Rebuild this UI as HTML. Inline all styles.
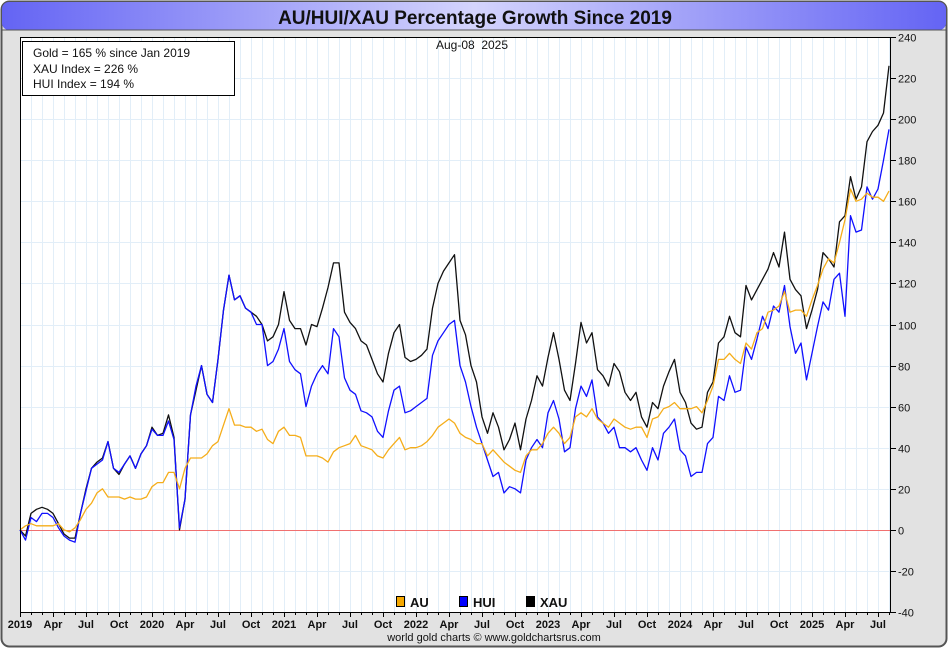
<!DOCTYPE html>
<html><head><meta charset="utf-8">
<style>
html,body{margin:0;padding:0;background:#fff;}
body{width:950px;height:650px;overflow:hidden;font-family:"Liberation Sans",sans-serif;}
</style></head>
<body>
<svg id="chart" width="950" height="650" xmlns="http://www.w3.org/2000/svg" font-family="Liberation Sans, sans-serif">
<defs>
<linearGradient id="tg" x1="0" x2="1" y1="0" y2="0">
<stop offset="0" stop-color="#6464f4"/><stop offset="0.5" stop-color="#d4d4fc"/><stop offset="1" stop-color="#6464f4"/>
</linearGradient>
</defs>
<rect x="1.5" y="1.5" width="945" height="645" rx="8" fill="#e2e2e2" stroke="#555" stroke-width="2"/>
<rect x="2" y="2" width="944" height="28" rx="7" fill="url(#tg)"/>
<line x1="2" y1="30" x2="946" y2="30" stroke="#555" stroke-width="1"/>
<text x="475" y="24" text-anchor="middle" font-size="19" font-weight="bold" fill="#111">AU/HUI/XAU Percentage Growth Since 2019</text>
<rect x="20" y="37" width="870" height="575" fill="#fff"/>
<g id="grid"></g>
<g id="series"></g>
<rect x="20.5" y="37.5" width="870" height="575" fill="none" stroke="#000" stroke-width="1"/>
<g id="axes"></g>
<text x="472" y="49" text-anchor="middle" font-size="12" fill="#111">Aug-08&#160; 2025</text>
<g>
<rect x="22.5" y="41.5" width="212" height="54" fill="#fff" stroke="#000"/>
<text x="33" y="57" font-size="12" fill="#111">Gold = 165 % since Jan 2019</text>
<text x="33" y="73" font-size="12" fill="#111">XAU Index = 226 %</text>
<text x="33" y="88" font-size="12" fill="#111">HUI Index = 194 %</text>
</g>
<g font-size="13" font-weight="bold" fill="#111">
<g><rect x="396.5" y="596.5" width="8" height="10" fill="#f5a800" stroke="#000"/><text x="410" y="607">AU</text></g>
<g><rect x="459.5" y="596.5" width="8" height="10" fill="#0000ff" stroke="#000"/><text x="473" y="607">HUI</text></g>
<g><rect x="526.5" y="596.5" width="8" height="10" fill="#000" stroke="#000"/><text x="540" y="607">XAU</text></g>
</g>
<text x="494" y="641" text-anchor="middle" font-size="11" fill="#111">world gold charts © www.goldchartsrus.com</text>
</svg>
<script>
// Semi-monthly samples from Jan 2019 (index 0) to Aug 2025
const stepMonths = 0.5;
const auValues = [0,2,3,2,2,2,2,3,0,-1,1,5,10,13,18,20,16,16,16,15,16,15,15,16,21,23,23,28,28,20,30,35,35,35,37,41,43,51,59,51,51,
50,50,48,49,44,42,48,50,46,46,45,36,36,36,35,33,38,40,41,42,46,41,40,39,36,35,39,42,45,39,40,40,41,43,46,50,52,54,52,47,45,44,42,
42,36,39,36,33,31,29,28,36,39,39,42,47,50,47,42,45,55,57,55,59,54,52,50,54,52,50,49,50,50,45,54,55,59,60,62,59,59,59,60,
57,63,70,83,83,86,83,81,91,88,96,98,106,107,109,116,106,107,107,104,112,119,127,132,130,140,151,166,160,161,164,162,162,160,165];
const huiValues = [0,-5,6,4,8,8,6,1,-3,-5,-6,8,19,30,32,34,43,30,28,32,36,30,37,41,49,46,46,53,44,1,15,56,70,80,66,62,83,107,124,112,114,
108,106,100,100,80,82,88,98,82,78,76,60,70,76,80,76,98,94,74,68,66,58,57,55,48,45,58,68,70,57,58,60,62,64,85,92,96,100,102,80,72,60,50,
42,34,26,28,18,21,20,18,34,40,44,40,57,63,54,38,40,59,70,65,73,55,52,47,50,40,40,38,40,34,29,40,34,47,50,54,39,36,26,28,
28,42,45,65,63,75,67,68,89,83,93,104,98,109,106,119,99,86,91,73,86,99,111,107,122,125,104,153,145,146,167,161,166,180,195];
const xauValues = [0,-3,8,10,11,10,8,3,-2,-4,-4,8,20,30,33,35,43,30,27,32,36,30,37,41,50,46,47,56,45,0,15,56,68,80,66,62,83,107,124,112,114,
108,106,104,100,92,94,100,116,102,98,98,90,100,99,108,118,130,130,106,101,98,92,90,83,76,72,86,96,100,84,82,83,85,88,108,120,126,130,134,102,95,80,72,
55,47,57,50,39,44,52,39,54,63,75,70,84,96,83,68,63,81,101,91,96,78,75,70,81,77,67,63,67,55,50,62,59,70,77,83,67,62,52,49,
50,67,72,91,94,104,96,94,119,112,117,122,127,135,128,145,122,117,114,98,107,117,135,132,128,150,153,172,161,167,189,194,197,203,226];
const yTicks = [240,220,200,180,160,140,120,100,80,60,40,20,0,-20,-40];
const xTickLabels = ["2019","Apr","Jul","Oct","2020","Apr","Jul","Oct","2021","Apr","Jul","Oct","2022","Apr","Jul","Oct","2023","Apr","Jul","Oct","2024","Apr","Jul","Oct","2025","Apr","Jul"];

const L=20,R=890,T=37,B=612,yMin=-40,yMax=240,monthPx=11;
const xs = m => L + m*monthPx;
const ys = v => T + (yMax-v)/(yMax-yMin)*(B-T);
const NS="http://www.w3.org/2000/svg";
function mk(tag,attrs,parent){const e=document.createElementNS(NS,tag);for(const k in attrs)e.setAttribute(k,attrs[k]);parent.appendChild(e);return e;}
const grid=document.getElementById('grid'),axes=document.getElementById('axes'),series=document.getElementById('series');
const nMonths = Math.floor((R-L)/monthPx);
for(let m=1;m<=nMonths;m++){
  const gl=mk('line',{x1:xs(m)+.5,x2:xs(m)+.5,y1:T,y2:B,stroke:'#e2eef8','stroke-width':1},grid);
  
  
}
yTicks.forEach(v=>{
  const y=Math.round(ys(v))+.5;
  if(v!==0){const g=mk('line',{x1:L,x2:R,y1:y,y2:y,stroke:'#e2eef8','stroke-width':1},grid);
    
    }
  const tk=mk('line',{x1:R,x2:R+6,y1:y,y2:y,stroke:'#000'},axes);
  
  
  const t=mk('text',{x:R+8,y:y+4,'font-size':11,fill:'#111'},axes);
  t.textContent=v;
  
  
});
const zl=mk('line',{x1:L,x2:R,y1:Math.round(ys(0))+.5,y2:Math.round(ys(0))+.5,stroke:'#f07070','stroke-width':1},grid);


for(let m=0;m<=nMonths;m++){
  const tk=mk('line',{x1:xs(m)+.5,x2:xs(m)+.5,y1:B,y2:B+(m%3===0?5:3),stroke:'#000'},axes);
  
  
}
xTickLabels.forEach((lab,i)=>{
  const t=mk('text',{x:xs(i*3),y:628,'font-size':11,'font-weight':'bold','text-anchor':'middle',fill:'#111'},axes);
  t.textContent=lab;
  
  
});
function drawLine(vals,color,name){
  const pts=vals.map((v,i)=>xs(i*stepMonths).toFixed(1)+','+ys(v).toFixed(1)).join(' ');
  const p=mk('polyline',{points:pts,fill:'none',stroke:color,'stroke-width':1.3,'stroke-linejoin':'round'},series);
  
  
}
drawLine(xauValues,'#111','xau-line');
drawLine(huiValues,'#1010ff','hui-line');
drawLine(auValues,'#f5ad1a','au-line');
</script>
</body></html>
